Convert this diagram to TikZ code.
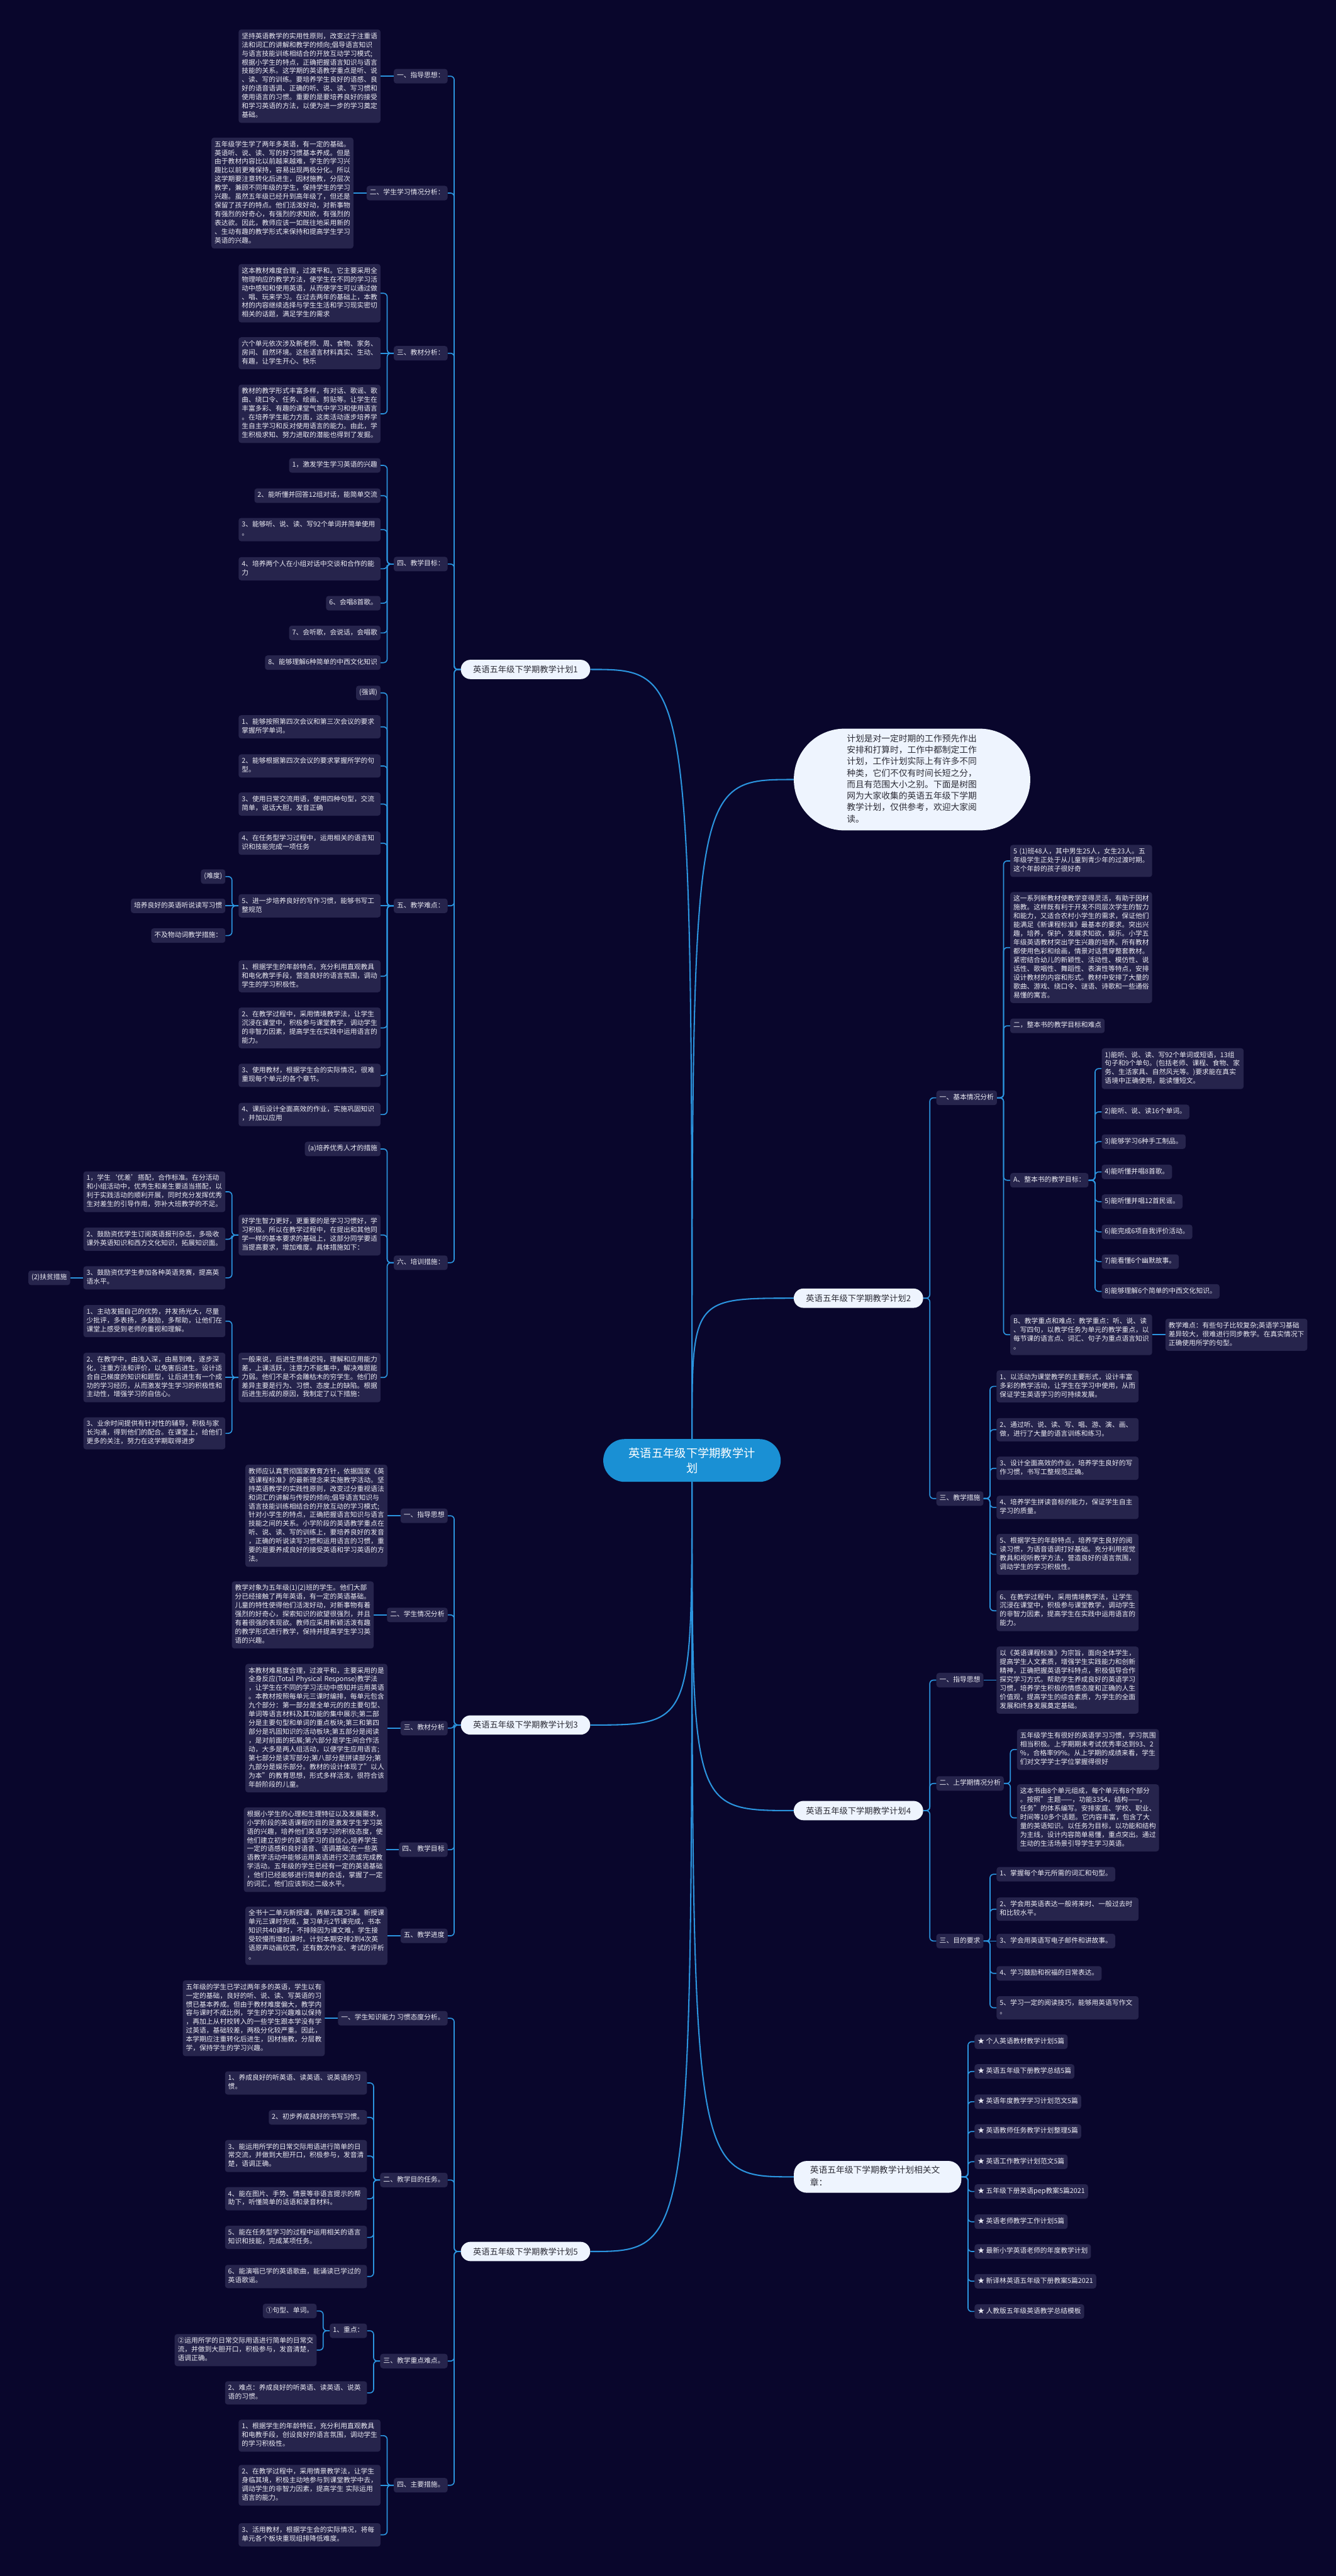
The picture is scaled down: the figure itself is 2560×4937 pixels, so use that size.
\documentclass[tikz,border=0pt]{standalone}
\usepackage{fontspec}
\setmainfont{Noto Sans CJK SC}
\usetikzlibrary{calc}
\pgfdeclarelayer{back}\pgfdeclarelayer{bg}
\pgfsetlayers{back,bg,main}
\definecolor{bgc}{RGB}{9,6,44}
\definecolor{boxc}{RGB}{38,36,76}
\definecolor{txtc}{RGB}{236,236,244}
\definecolor{linec}{RGB}{43,148,222}
\definecolor{pillc}{RGB}{238,244,254}
\definecolor{pilltxt}{RGB}{45,45,55}
\definecolor{rootc}{RGB}{26,144,212}
\hyphenpenalty=10000 \exhyphenpenalty=10000
\newcommand\bxfont{\fontsize{13pt}{16.8pt}\selectfont}
\newcommand\mytx[1]{\strut#1\strut}
\tikzset{
 bx/.style={fill=boxc,text=txtc,rounded corners=5pt,inner xsep=6pt,inner ysep=5.5pt,font=\bxfont,align=left},
 wb/.style={bx,text width=260pt},
 mn/.style={fill=pillc,text=pilltxt,rounded corners=18.5pt,minimum width=248pt,minimum height=37pt,inner sep=0pt,font=\fontsize{16pt}{20pt}\selectfont},
 conn/.style={draw=linec,line width=2pt,rounded corners=7pt},
 mconn/.style={draw=linec,line width=2.5pt},
}
\newcommand\Lnode[5]{\path (#3.west) ++(-25,0) coordinate (tmpc);
 \node[#1,anchor=east] (#2) at (tmpc |- 0,#4) {\mytx{#5}};
 \begin{pgfonlayer}{bg}\draw[conn] (#3.west) -- ++(-12.5,0) |- (#2.east);\end{pgfonlayer}}
\newcommand\LnodeS[4]{\path (#3.west) ++(-25,0) coordinate (tmpc);
 \node[#1,anchor=east] (#2) at (tmpc) {\mytx{#4}};
 \begin{pgfonlayer}{bg}\draw[conn] (#3.west) -- (#2.east);\end{pgfonlayer}}
\newcommand\Rnode[5]{\path (#3.east) ++(25,0) coordinate (tmpc);
 \node[#1,anchor=west] (#2) at (tmpc |- 0,#4) {\mytx{#5}};
 \begin{pgfonlayer}{bg}\draw[conn] (#3.east) -- ++(12.5,0) |- (#2.west);\end{pgfonlayer}}
\newcommand\RnodeS[4]{\path (#3.east) ++(25,0) coordinate (tmpc);
 \node[#1,anchor=west] (#2) at (tmpc) {\mytx{#4}};
 \begin{pgfonlayer}{bg}\draw[conn] (#3.east) -- (#2.west);\end{pgfonlayer}}
\begin{document}
\begin{tikzpicture}[x=1pt,y=-1pt]
\useasboundingbox (0,0) rectangle (2560,4937);
\begin{pgfonlayer}{back}\fill[bgc] (0,0) rectangle (2560,4937);\end{pgfonlayer}
% root
\node[fill=rootc,text=white,rounded corners=41pt,minimum width=340pt,minimum height=82pt,inner sep=0pt,align=center,font=\fontsize{22pt}{29pt}\selectfont] (root) at (1326,2799) {英语五年级下学期教学计\\划};
% ===== plan 1 =====
\node[mn] (m1) at (1007,1283) {英语五年级下学期教学计划1};
\Lnode{bx}{a1}{m1}{146}{一、指导思想：}
\LnodeS{wb}{a1t}{a1}{坚持英语教学的实用性原则，改变过于注重语\\法和词汇的讲解和教学的倾向;倡导语言知识\\与语言技能训练相结合的开放互动学习模式;\\根据小学生的特点，正确把握语言知识与语言\\技能的关系。这学期的英语教学重点是听、说\\、读、写的训练。要培养学生良好的语感、良\\好的语音语调、正确的听、说、读、写习惯和\\使用语言的习惯。重要的是要培养良好的接受\\和学习英语的方法，以便为进一步的学习奠定\\基础。}
\Lnode{bx}{a2}{m1}{370}{二、学生学习情况分析：}
\LnodeS{wb}{a2t}{a2}{五年级学生学了两年多英语，有一定的基础。\\英语听、说、读、写的好习惯基本养成。但是\\由于教材内容比以前越来越难，学生的学习兴\\趣比以前更难保持，容易出现两极分化。所以\\这学期要注意转化后进生，因材施教，分层次\\教学，兼顾不同年级的学生，保持学生的学习\\兴趣。虽然五年级已经升到高年级了，但还是\\保留了孩子的特点。他们活泼好动，对新事物\\有强烈的好奇心，有强烈的求知欲，有强烈的\\表达欲。因此，教师应该一如既往地采用新的\\、生动有趣的教学形式来保持和提高学生学习\\英语的兴趣。}
\Lnode{bx}{a3}{m1}{677}{三、教材分析：}
\Lnode{wb}{a3a}{a3}{562}{这本教材难度合理，过渡平和。它主要采用全\\物理响应的教学方法，使学生在不同的学习活\\动中感知和使用英语，从而使学生可以通过做\\、唱、玩来学习。在过去两年的基础上，本教\\材的内容继续选择与学生生活和学习现实密切\\相关的话题，满足学生的需求}
\LnodeS{wb}{a3b}{a3}{六个单元依次涉及新老师、周、食物、家务、\\房间、自然环境。这些语言材料真实、生动、\\有趣，让学生开心、快乐}
\Lnode{wb}{a3c}{a3}{793}{教材的教学形式丰富多样，有对话、歌谣、歌\\曲、绕口令、任务、绘画、剪贴等。让学生在\\丰富多彩、有趣的课堂气氛中学习和使用语言\\。在培养学生能力方面，这类活动逐步培养学\\生自主学习和反对使用语言的能力。由此，学\\生积极求知、努力进取的潜能也得到了发掘。}
\Lnode{bx}{a4}{m1}{1081}{四、教学目标：}
\Lnode{bx}{a41}{a4}{892}{1，激发学生学习英语的兴趣}
\Lnode{bx}{a42}{a4}{950}{2、能听懂并回答12组对话，能简单交流}
\Lnode{wb}{a43}{a4}{1015}{3、能够听、说、读、写92个单词并简单使用\\。}
\Lnode{wb}{a44}{a4}{1090}{4、培养两个人在小组对话中交谈和合作的能\\力}
\Lnode{bx}{a46}{a4}{1156}{6、会唱8首歌。}
\Lnode{bx}{a47}{a4}{1213}{7、会听歌，会说话，会唱歌}
\Lnode{bx}{a48}{a4}{1270}{8、能够理解6种简单的中西文化知识}
\Lnode{bx}{a5}{m1}{1736}{五、教学难点：}
\Lnode{bx}{a50}{a5}{1328}{(强调)}
\Lnode{wb}{a51}{a5}{1393}{1、能够按照第四次会议和第三次会议的要求\\掌握所学单词。}
\Lnode{wb}{a52}{a5}{1468}{2、能够根据第四次会议的要求掌握所学的句\\型。}
\Lnode{wb}{a53}{a5}{1541}{3、使用日常交流用语，使用四种句型，交流\\简单，说话大胆，发音正确}
\Lnode{wb}{a54}{a5}{1616}{4、在任务型学习过程中，运用相关的语言知\\识和技能完成一项任务}
\LnodeS{wb}{a55}{a5}{5、进一步培养良好的写作习惯，能够书写工\\整规范}
\Lnode{wb}{a56}{a5}{1871}{1、根据学生的年龄特点，充分利用直观教具\\和电化教学手段，营造良好的语言氛围，调动\\学生的学习积极性。}
\Lnode{wb}{a57}{a5}{1970}{2、在教学过程中，采用情境教学法，让学生\\沉浸在课堂中，积极参与课堂教学，调动学生\\的非智力因素，提高学生在实践中运用语言的\\能力。}
\Lnode{wb}{a58}{a5}{2061}{3、使用教材，根据学生会的实际情况，很难\\重现每个单元的各个章节。}
\Lnode{wb}{a59}{a5}{2136}{4、课后设计全面高效的作业，实施巩固知识\\，并加以应用}
\Lnode{bx}{a551}{a55}{1680}{(难度)}
\LnodeS{bx}{a552}{a55}{培养良好的英语听说读写习惯}
\Lnode{bx}{a553}{a55}{1793}{不及物动词教学措施：}
\Lnode{bx}{a6}{m1}{2420}{六、培训措施：}
\Lnode{bx}{a61}{a6}{2202}{(a)培养优秀人才的措施}
\Lnode{wb}{a62}{a6}{2367}{好学生智力更好，更重要的是学习习惯好，学\\习积极。所以在教学过程中，在提出和其他同\\学一样的基本要求的基础上，这部分同学要适\\当提高要求，增加难度。具体措施如下：}
\Lnode{wb}{a63}{a6}{2640}{一般来说，后进生思维迟钝，理解和应用能力\\差，上课活跃，注意力不能集中，解决难题能\\力弱。他们不是不会雕枯木的穷学生。他们的\\差异主要是行为、习惯、态度上的缺陷。根据\\后进生形成的原因，我制定了以下措施：}
\Lnode{wb}{a621}{a62}{2284}{1，学生‘优差’搭配，合作标准。在分活动\\和小组活动中，优秀生和差生要适当搭配，以\\利于实践活动的顺利开展，同时充分发挥优秀\\生对差生的引导作用，弥补大班教学的不足。}
\Lnode{wb}{a622}{a62}{2375}{2、鼓励资优学生订阅英语报刊杂志，多吸收\\课外英语知识和西方文化知识，拓展知识面。}
\Lnode{wb}{a623}{a62}{2449}{3、鼓励资优学生参加各种英语竞赛，提高英\\语水平。}
\LnodeS{bx}{a6231}{a623}{(2)扶贫措施}
\Lnode{wb}{a631}{a63}{2532}{1、主动发掘自己的优势，并发扬光大，尽量\\少批评，多表扬，多鼓励，多帮助，让他们在\\课堂上感受到老师的重视和理解。}
\LnodeS{wb}{a632}{a63}{2、在教学中，由浅入深，由易到难，逐步深\\化，注重方法和评价，以免害后进生。设计适\\合自己梯度的知识和题型，让后进生有一个成\\功的学习经历，从而激发学生学习的积极性和\\主动性，增强学习的自信心。}
\Lnode{wb}{a633}{a63}{2747}{3、业余时间提供有针对性的辅导，积极与家\\长沟通，得到他们的配合。在课堂上，给他们\\更多的关注，努力在这学期取得进步}
% ===== plan 3 =====
\node[mn] (m3) at (1007,3306) {英语五年级下学期教学计划3};
\Lnode{bx}{b1}{m3}{2905}{一、指导思想}
\LnodeS{wb}{b1t}{b1}{教师应认真贯彻国家教育方针，依据国家《英\\语课程标准》的最新理念来实施教学活动。坚\\持英语教学的实践性原则，改变过分重视语法\\和词汇的讲解与传授的倾向;倡导语言知识与\\语言技能训练相结合的开放互动的学习模式;\\针对小学生的特点，正确把握语言知识与语言\\技能之间的关系。小学阶段的英语教学重点在\\听、说、读、写的训练上，要培养良好的发音\\，正确的听说读写习惯和运用语言的习惯，重\\要的是要养成良好的接受英语和学习英语的方\\法。}
\Lnode{bx}{b2}{m3}{3095}{二、学生情况分析}
\LnodeS{wb}{b2t}{b2}{教学对象为五年级(1)(2)班的学生。他们大部\\分已经接触了两年英语，有一定的英语基础。\\儿童的特性使得他们活泼好动，对新事物有着\\强烈的好奇心，探索知识的欲望很强烈，并且\\有着很强的表现欲。教师应采用新颖活泼有趣\\的教学形式进行教学，保持并提高学生学习英\\语的兴趣。}
\Lnode{bx}{b3}{m3}{3312}{三、教材分析}
\LnodeS{wb}{b3t}{b3}{本教材难易度合理，过渡平和，主要采用的是\\全身反应(Total~Physical~Response)教学法\\，让学生在不同的学习活动中感知并运用英语\\。本教材按照每单元三课时编排，每单元包含\\九个部分：第一部分是全单元的的主要句型、\\单词等语言材料及其功能的集中展示;第二部\\分是主要句型和单词的重点板块;第三和第四\\部分是巩固知识的活动板块;第五部分是阅读\\，是对前面的拓展;第六部分是学生间合作活\\动，大多是两人组活动，以便学生应用语言;\\第七部分是读写部分;第八部分是拼读部分;第\\九部分是娱乐部分。教材的设计体现了"以人\\为本"的教育思想，形式多样活泼，很符合该\\年龄阶段的儿童。}
\Lnode{bx}{b4}{m3}{3545}{四、 教学目标}
\LnodeS{wb}{b4t}{b4}{根据小学生的心理和生理特征以及发展需求，\\小学阶段的英语课程的目的是激发学生学习英\\语的兴趣，培养他们英语学习的积极态度，使\\他们建立初步的英语学习的自信心;培养学生\\一定的语感和良好语音、语调基础;在一些英\\语教学活动中能够运用英语进行交流或完成教\\学活动。五年级的学生已经有一定的英语基础\\，他们已经能够进行简单的会话，掌握了一定\\的词汇，他们应该到达二级水平。}
\Lnode{bx}{b5}{m3}{3710}{五、教学进度}
\LnodeS{wb}{b5t}{b5}{全书十二单元新授课，两单元复习课。新授课\\单元三课时完成，复习单元2节课完成，书本\\知识共40课时，不排除因为课文难，学生接\\受较慢而增加课时。计划本期安排2到4次英\\语原声动画欣赏，还有数次作业、考试的评析\\。}
% ===== plan 5 =====
\node[mn] (m5) at (1007,4315) {英语五年级下学期教学计划5};
\Lnode{bx}{c1}{m5}{3868}{一、学生知识能力 习惯态度分析。}
\LnodeS{wb}{c1t}{c1}{五年级的学生已学过两年多的英语，学生以有\\一定的基础，良好的听、说、读、写英语的习\\惯已基本养成。但由于教材难度偏大，教学内\\容与课时不成比例，学生的学习兴趣难以保持\\，再加上从村校转入的一些学生跟本学没有学\\过英语，基础较差，两极分化较严重。因此，\\本学期应注重转化后进生，因材施教，分层教\\学，保持学生的学习兴趣。}
\Lnode{bx}{c2}{m5}{4178}{二、教学目的任务。}
\Lnode{wb}{c21}{c2}{3992}{1、养成良好的听英语、读英语、说英语的习\\惯。}
\Lnode{bx}{c22}{c2}{4058}{2、初步养成良好的书写习惯。}
\Lnode{wb}{c23}{c2}{4132}{3、能运用所学的日常交际用语进行简单的日\\常交流，并做到大胆开口，积极参与，发音清\\楚，语调正确。}
\Lnode{wb}{c24}{c2}{4214}{4、能在图片、手势、情景等非语言提示的帮\\助下，听懂简单的话语和录音材料。}
\Lnode{wb}{c25}{c2}{4288}{5、能在任务型学习的过程中运用相关的语言\\知识和技能，完成某项任务。}
\Lnode{wb}{c26}{c2}{4363}{6、能演唱已学的英语歌曲，能诵读已学过的\\英语歌谣。}
\Lnode{bx}{c3}{m5}{4525}{三、教学重点难点。}
\Lnode{bx}{c31}{c3}{4467}{1、重点：}
\Lnode{bx}{c311}{c31}{4429}{①句型、单词。}
\Lnode{wb}{c312}{c31}{4504}{②运用所学的日常交际用语进行简单的日常交\\流，并做到大胆开口，积极参与，发音清楚，\\语调正确。}
\Lnode{wb}{c32}{c3}{4586}{2、难点：养成良好的听英语、读英语、说英\\语的习惯。}
\Lnode{bx}{c4}{m5}{4763}{四、主要措施。}
\Lnode{wb}{c41}{c4}{4668}{1、根据学生的年龄特征，充分利用直观教具\\和电教手段，创设良好的语言氛围，调动学生\\的学习积极性。}
\LnodeS{wb}{c42}{c4}{2、在教学过程中，采用情景教学法，让学生\\身临其境，积极主动地参与到课堂教学中去，\\调动学生的非智力因素，提高学生~实际运用\\语言的能力。}
\Lnode{wb}{c43}{c4}{4858}{3、活用教材，根据学生会的实际情况，将每\\单元各个板块重现组排降低难度。}
% ===== bubble =====
\node[fill=pillc,text=pilltxt,rounded corners=97pt,text width=250pt,minimum width=453pt,minimum height=195pt,inner xsep=0pt,inner ysep=9.5pt,align=left,font=\fontsize{16.6pt}{22pt}\selectfont,anchor=west] (bub) at (1521,1494) {\mytx{计划是对一定时期的工作预先作出\\安排和打算时，工作中都制定工作\\计划，工作计划实际上有许多不同\\种类，它们不仅有时间长短之分，\\而且有范围大小之别。下面是树图\\网为大家收集的英语五年级下学期\\教学计划，仅供参考，欢迎大家阅\\读。}};
% ===== plan 2 =====
\node[mn] (m2) at (1645,2488) {英语五年级下学期教学计划2};
\Rnode{bx}{d1}{m2}{2104}{一、基本情况分析}
\Rnode{wb}{d11}{d1}{1650}{5~(1)班48人，其中男生25人，女生23人。五\\年级学生正处于从儿童到青少年的过渡时期。\\这个年龄的孩子很好奇}
\Rnode{wb}{d12}{d1}{1816}{这一系列新教材使教学变得灵活，有助于因材\\施教。这样既有利于开发不同层次学生的智力\\和能力，又适合农村小学生的需求，保证他们\\能满足《新课程标准》最基本的要求。突出兴\\趣，培养，保护，发展求知欲，娱乐。小学五\\年级英语教材突出学生兴趣的培养。所有教材\\都使用色彩和绘画，情景对话贯穿整套教材。\\紧密结合幼儿的新颖性、活动性、模仿性、说\\话性、歌唱性、舞蹈性、表演性等特点，安排\\设计教材的内容和形式。教材中安排了大量的\\歌曲、游戏、绕口令、谜语、诗歌和一些通俗\\易懂的寓言。}
\Rnode{bx}{d13}{d1}{1966}{二，整本书的教学目标和难点}
\Rnode{bx}{d14}{d1}{2262}{A、整本书的教学目标：}
\Rnode{wb}{d141}{d14}{2048}{1)能听、说、读、写92个单词或短语，13组\\句子和9个单句。(包括老师、课程、食物、家\\务、生活家具、自然风光等。)要求能在真实\\语境中正确使用，能读懂短文。}
\Rnode{bx}{d142}{d14}{2131}{2)能听、说、读16个单词。}
\Rnode{bx}{d143}{d14}{2188}{3)能够学习6种手工制品。}
\Rnode{bx}{d144}{d14}{2246}{4)能听懂并唱8首歌。}
\Rnode{bx}{d145}{d14}{2303}{5)能听懂并唱12首民谣。}
\Rnode{bx}{d146}{d14}{2361}{6)能完成6项自我评价活动。}
\Rnode{bx}{d147}{d14}{2418}{7)能看懂6个幽默故事。}
\Rnode{bx}{d148}{d14}{2475}{8)能够理解6个简单的中西文化知识。}
\Rnode{wb}{d15}{d1}{2558}{B、教学重点和难点：教学重点：听、说、读\\、写四句，以教学任务为单元的教学重点，以\\每节课的语言点、词汇、句子为重点语言知识\\。}
\RnodeS{wb}{d151}{d15}{教学难点：有些句子比较复杂;英语学习基础\\差异较大，很难进行同步教学。在真实情况下\\正确使用所学的句型。}
\Rnode{bx}{d2}{m2}{2872}{三、教学措施}
\Rnode{wb}{d21}{d2}{2657}{1、以活动为课堂教学的主要形式，设计丰富\\多彩的教学活动，让学生在学习中使用，从而\\保证学生英语学习的可持续发展。}
\Rnode{wb}{d22}{d2}{2740}{2、通过听、说、读、写、唱、游、演、画、\\做，进行了大量的语言训练和练习。}
\Rnode{wb}{d23}{d2}{2814}{3、设计全面高效的作业，培养学生良好的写\\作习惯，书写工整规范正确。}
\Rnode{wb}{d24}{d2}{2889}{4、培养学生拼读音标的能力，保证学生自主\\学习的质量。}
\Rnode{wb}{d25}{d2}{2979}{5、根据学生的年龄特点，培养学生良好的阅\\读习惯，为语音语调打好基础。充分利用视觉\\教具和视听教学方法，营造良好的语言氛围，\\调动学生的学习积极性。}
\Rnode{wb}{d26}{d2}{3087}{6、在教学过程中，采用情境教学法，让学生\\沉浸在课堂中，积极参与课堂教学，调动学生\\的非智力因素，提高学生在实践中运用语言的\\能力。}
% ===== plan 4 =====
\node[mn] (m4) at (1645,3470) {英语五年级下学期教学计划4};
\Rnode{bx}{e1}{m4}{3220}{一、指导思想}
\RnodeS{wb}{e1t}{e1}{以《英语课程标准》为宗旨，面向全体学生，\\提高学生人文素质，增强学生实践能力和创新\\精神，正确把握英语学科特点，积极倡导合作\\探究学习方式。帮助学生养成良好的英语学习\\习惯，培养学生积极的情感态度和正确的人生\\价值观，提高学生的综合素质，为学生的全面\\发展和终身发展奠定基础。}
\Rnode{bx}{e2}{m4}{3418}{二、上学期情况分析}
\Rnode{wb}{e21}{e2}{3353}{五年级学生有很好的英语学习习惯，学习氛围\\相当积极。上学期期末考试优秀率达到93、2\\\%，合格率99\%。从上学期的成绩来看，学生\\们对文学学士学位掌握得很好}
\Rnode{wb}{e22}{e2}{3484}{这本书由8个单元组成，每个单元有8个部分\\。按照"主题——，功能3354，结构——，\\任务"的体系编写。安排家庭、学校、职业、\\时间等10多个话题。它内容丰富，包含了大\\量的英语知识。以任务为目标，以功能和结构\\为主线，设计内容简单易懂，重点突出。通过\\生动的生活场景引导学生学习英语。}
\Rnode{bx}{e3}{m4}{3720}{三、目的要求}
\Rnode{bx}{e31}{e3}{3592}{1、掌握每个单元所需的词汇和句型。}
\Rnode{wb}{e32}{e3}{3659}{2、学会用英语表达一般将来时、一般过去时\\和比较水平。}
\RnodeS{bx}{e33}{e3}{3、学会用英语写电子邮件和讲故事。}
\Rnode{bx}{e34}{e3}{3782}{4、学习鼓励和祝福的日常表达。}
\Rnode{wb}{e35}{e3}{3848}{5、学习一定的阅读技巧，能够用英语写作文\\。}
% ===== related =====
\node[fill=pillc,text=pilltxt,rounded corners=25pt,text width=259pt,inner xsep=31pt,inner ysep=6.5pt,align=left,font=\fontsize{16.6pt}{24pt}\selectfont,anchor=west] (rel) at (1521,4172) {\mytx{英语五年级下学期教学计划相关文\\章：}};
\Rnode{bx}{r1}{rel}{3913}{★ 个人英语教材教学计划5篇}
\Rnode{bx}{r2}{rel}{3970}{★ 英语五年级下册教学总结5篇}
\Rnode{bx}{r3}{rel}{4028}{★ 英语年度教学学习计划范文5篇}
\Rnode{bx}{r4}{rel}{4085}{★ 英语教师任务教学计划整理5篇}
\Rnode{bx}{r5}{rel}{4143}{★ 英语工作教学计划范文5篇}
\Rnode{bx}{r6}{rel}{4200}{★ 五年级下册英语pep教案5篇2021}
\Rnode{bx}{r7}{rel}{4258}{★ 英语老师教学工作计划5篇}
\Rnode{bx}{r8}{rel}{4315}{★ 最新小学英语老师的年度教学计划}
\Rnode{bx}{r9}{rel}{4372}{★ 新译林英语五年级下册教案5篇2021}
\Rnode{bx}{r10}{rel}{4430}{★ 人教版五年级英语教学总结模板}
% ===== root connectors =====
\begin{pgfonlayer}{bg}
\draw[mconn] (root.north) .. controls (root.north |- m1.east) .. (m1.east);
\draw[mconn] (root.south) .. controls (root.south |- m3.east) .. (m3.east);
\draw[mconn] (root.south) .. controls (root.south |- m5.east) .. (m5.east);
\draw[mconn] (root.north) .. controls (root.north |- bub.west) .. (bub.west);
\draw[mconn] (root.north) .. controls (root.north |- m2.west) .. (m2.west);
\draw[mconn] (root.south) .. controls (root.south |- m4.west) .. (m4.west);
\draw[mconn] (root.south) .. controls (root.south |- rel.west) .. (rel.west);
\end{pgfonlayer}
\end{tikzpicture}
\end{document}
